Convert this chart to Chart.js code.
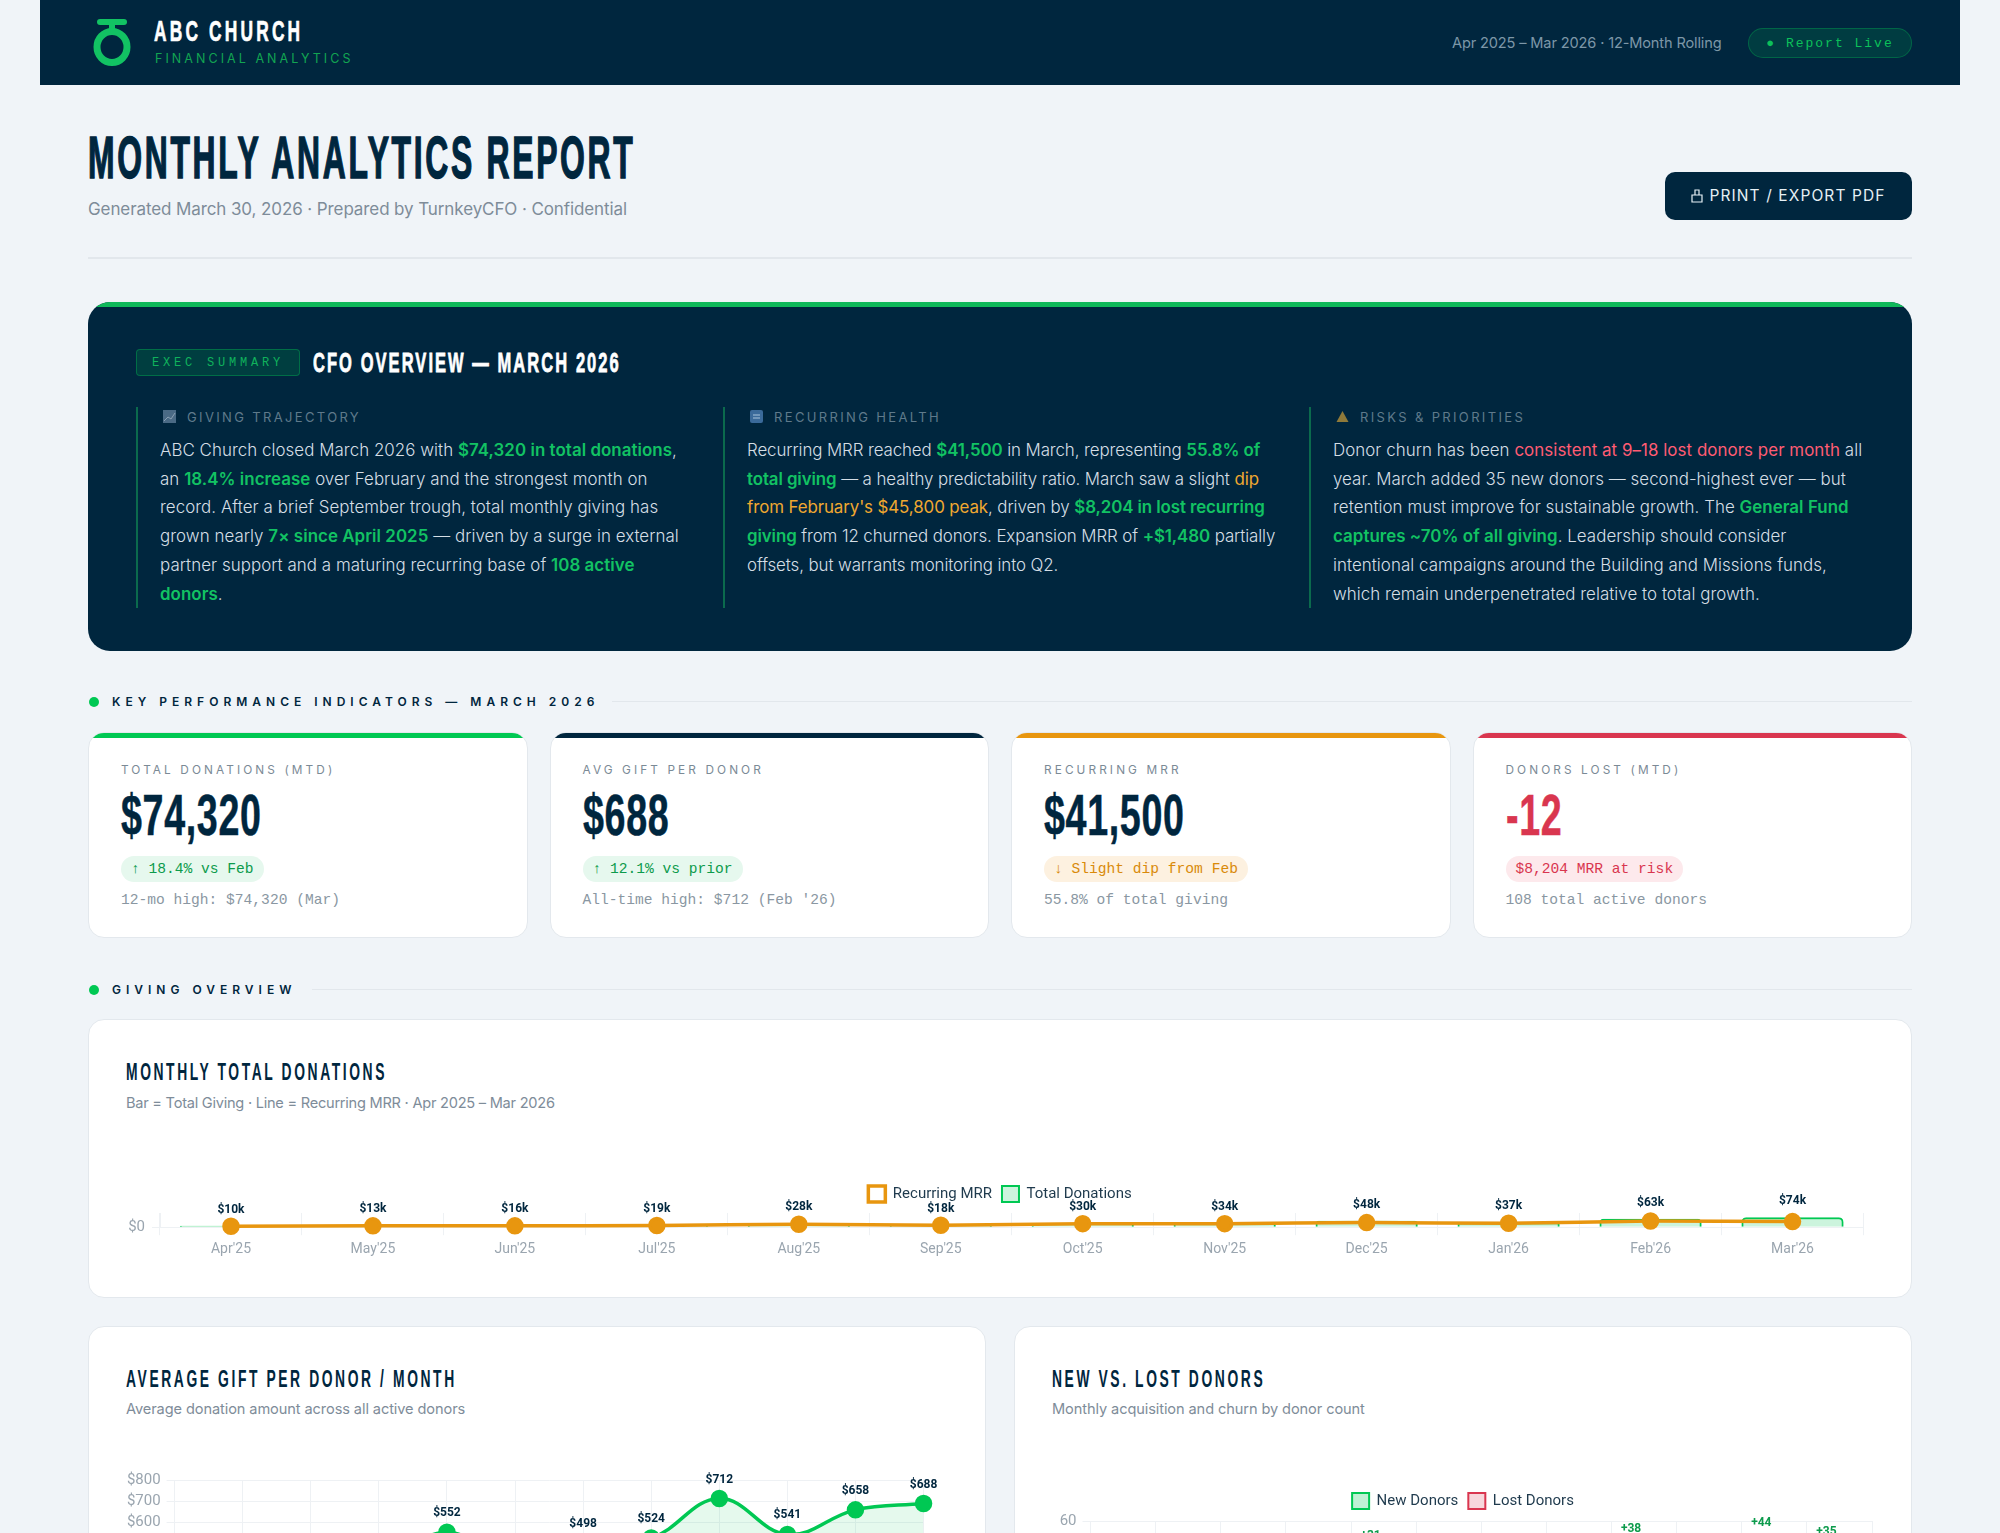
<!DOCTYPE html>
<html>
<head>
<meta charset="utf-8">
<title>ABC Church Monthly Analytics Report</title>
<script src="https://cdn.jsdelivr.net/npm/chart.js@4/dist/chart.umd.js"></script>
<style>
* { box-sizing: border-box; margin: 0; padding: 0; }
html, body { width: 2000px; height: 1533px; overflow: hidden; background: #f0f4f8; }
body { font-family: Inter, "Noto Sans", sans-serif; color: #00263e; }
.disp { font-family: "Liberation Sans", sans-serif; font-weight: 700; white-space: nowrap; display: inline-block; transform-origin: left center; }
.mono { font-family: "Liberation Mono", "DejaVu Sans Mono", monospace; }

.top { margin: 0 40px; height: 85px; background: #00263e; position: relative; }
.top svg { position: absolute; left: 53px; top: 18px; }
.brand { position: absolute; left: 114px; top: 15px; font-size: 30px; line-height: 32px; color: #fff; letter-spacing: 5.5px; transform: scaleX(.578); -webkit-text-stroke: .7px #fff; }
.brand-sub { position: absolute; left: 115px; top: 51px; font-size: 12.5px; line-height: 16px; color: #12a452; letter-spacing: 3.05px; white-space: nowrap; }
.period { position: absolute; left: 1412px; top: 32px; font-size: 14.6px; line-height: 22px; color: #7d97a8; white-space: nowrap; letter-spacing: -.15px; }
.live { position: absolute; right: 48px; top: 28px; width: 164px; height: 30px; border-radius: 15px; background: rgba(0,200,83,.14); border: 1px solid rgba(0,200,83,.3); color: #0cc05a; font-size: 13px; line-height: 29px; letter-spacing: 2px; text-align: center; white-space: nowrap; }

main { margin: 0 88px; position: relative; }
.head { height: 174px; border-bottom: 2px solid #e2e7ec; position: relative; }
h1 { position: absolute; left: 0; top: 43px; font-size: 59px; line-height: 60px; letter-spacing: 5px; color: #00263e; transform: scaleX(.54); -webkit-text-stroke: 1.5px #00263e; }
.gen { position: absolute; left: 0; top: 113px; font-size: 17px; line-height: 22px; color: #7e8c99; white-space: nowrap; letter-spacing: -.1px; }
.print { position: absolute; right: 0; top: 87px; width: 247px; height: 48px; border-radius: 10px; background: #00263e; color: #e6f0f5; font-size: 15.5px; line-height: 48px; letter-spacing: 1.1px; text-align: center; white-space: nowrap; }
.print svg { vertical-align: -2px; margin-right: 6px; }

.exec { margin-top: 43px; height: 349px; background: #00263e; border-radius: 22px; position: relative; overflow: hidden; }
.exec::before { content: ""; position: absolute; left: 0; right: 0; top: 0; height: 5px; background: #0fb85a; }
.badge { position: absolute; left: 48px; top: 47px; width: 164px; height: 27px; border-radius: 4px; background: rgba(0,200,83,.15); border: 1px solid rgba(0,200,83,.35); color: #10b25c; font-size: 12px; line-height: 26px; letter-spacing: 3.8px; text-align: center; white-space: nowrap; }
.exec h2 { position: absolute; left: 225px; top: 46px; font-size: 28px; line-height: 30px; letter-spacing: 3.5px; color: #fff; transform: scaleX(.589); -webkit-text-stroke: .8px #fff; }
.col { position: absolute; top: 105px; width: 555px; height: 201px; border-left: 2px solid #0b6a4d; padding-left: 22px; }
.col .hd { position: absolute; left: 24px; top: 0; height: 20px; font-size: 13px; line-height: 20px; letter-spacing: 2.35px; color: #5f7a8b; white-space: nowrap; }
.col .hd svg { position: absolute; left: 1px; top: 3px; }
.col .hd span { margin-left: 25px; }
.col p { position: absolute; left: 22px; top: 29px; font-size: 16.9px; line-height: 28.7px; color: #d5dee5; white-space: nowrap; font-weight: 300; letter-spacing: .05px; }
b { font-weight: 600; }
.g { color: #12c263; } .o { color: #f0a830; font-weight: 400; } .r { color: #ff5c73; font-weight: 400; }

.sec { height: 20px; position: relative; }
.sec::before { content: ""; position: absolute; left: 1px; top: 5px; width: 10px; height: 10px; border-radius: 50%; background: #00c853; }
.sec span { position: absolute; left: 24px; top: 0; font-size: 12px; line-height: 20px; font-weight: 600; letter-spacing: 5px; white-space: nowrap; }
.sec i { position: absolute; top: 9px; right: 0; height: 1px; background: #e2e7ec; }

.kpis { margin-top: 20px; display: flex; gap: 22px; height: 206px; }
.kpi { flex: 1; background: #fff; border: 1px solid #e3e8ed; border-radius: 16px; position: relative; overflow: hidden; }
.kpi::before { content: ""; position: absolute; left: 0; right: 0; top: 0; height: 5px; background: var(--c); }
.kpi .lab { position: absolute; left: 32px; top: 28px; font-size: 11.8px; line-height: 18px; letter-spacing: 3.1px; color: #7b8a96; white-space: nowrap; }
.kpi .val { position: absolute; left: 32px; top: 50px; font-size: 57px; line-height: 64px; transform: scaleX(.66); letter-spacing: 1px; color: #00263e; -webkit-text-stroke: .5px currentColor; }
.kpi .pill { position: absolute; left: 32px; top: 123px; height: 26px; border-radius: 13px; padding: 0 10px; font-size: 14.6px; line-height: 26px; white-space: nowrap; }
.kpi .note { position: absolute; left: 32px; top: 157px; font-size: 14.6px; line-height: 20px; color: #8a97a2; white-space: nowrap; }
.up { background: #e6f8ee; color: #0d9b4c; } .warn { background: #fdf1e0; color: #d98a0a; } .bad { background: #fde9ec; color: #d9364f; }

.card { background: #fff; border: 1px solid #e3e8ed; border-radius: 16px; position: relative; overflow: hidden; }
.card h3 { position: absolute; left: 37px; top: 38px; font-size: 24px; line-height: 28px; letter-spacing: 4.5px; font-weight: 700; color: #00263e; transform: scaleX(.577); }
.card .sub { position: absolute; left: 37px; top: 73px; font-size: 14.6px; line-height: 20px; color: #7e8c99; white-space: nowrap; letter-spacing: -.1px; }
.box { position: absolute; left: 37px; right: 37px; }
.row { margin-top: 28px; display: flex; gap: 28px; height: 400px; }
.row .card { height: 400px; }
.row .sub { top: 72px; }
</style>
</head>
<body>
<div class="top">
  <svg width="42" height="50" viewBox="0 0 42 50"><rect x="4" y="1" width="30" height="6" rx="3" fill="#12c263"/><rect x="16" y="6" width="6" height="10" fill="#12c263"/><ellipse cx="19" cy="29" rx="15" ry="15.5" fill="none" stroke="#12c263" stroke-width="7"/></svg>
  <div class="brand disp">ABC CHURCH</div>
  <div class="brand-sub">FINANCIAL ANALYTICS</div>
  <div class="period">Apr 2025 – Mar 2026 · 12-Month Rolling</div>
  <div class="live mono">● Report Live</div>
</div>
<main>
  <div class="head">
    <h1 class="disp">MONTHLY ANALYTICS REPORT</h1>
    <div class="gen">Generated March 30, 2026 · Prepared by TurnkeyCFO · Confidential</div>
    <div class="print"><svg width="12" height="14" viewBox="0 0 12 14"><path d="M1 6h10v7H1zM4 6V1h4v5" fill="none" stroke="#e6f0f5" stroke-width="1.2"/></svg>PRINT / EXPORT PDF</div>
  </div>

  <div class="exec">
    <div class="badge mono">EXEC SUMMARY</div>
    <h2 class="disp">CFO OVERVIEW — MARCH 2026</h2>
    <div class="col" style="left:48px">
      <div class="hd"><svg width="13" height="13"><rect width="13" height="13" fill="#4a6a85"/><path d="M1 11l4-4 3 2 4-6" stroke="#8aa0b3" fill="none"/></svg><span>GIVING TRAJECTORY</span></div>
      <p>ABC Church closed March 2026 with <b class="g">$74,320 in total donations</b>,<br>an <b class="g">18.4% increase</b> over February and the strongest month on<br>record. After a brief September trough, total monthly giving has<br>grown nearly <b class="g">7× since April 2025</b> — driven by a surge in external<br>partner support and a maturing recurring base of <b class="g">108 active<br>donors</b>.</p>
    </div>
    <div class="col" style="left:635px">
      <div class="hd"><svg width="13" height="13"><rect width="13" height="13" rx="2" fill="#3a6a9a"/><path d="M3 5h7M3 8h7" stroke="#a8c4dc"/></svg><span>RECURRING HEALTH</span></div>
      <p style="letter-spacing:-.1px">Recurring MRR reached <b class="g">$41,500</b> in March, representing <b class="g">55.8% of<br>total giving</b> — a healthy predictability ratio. March saw a slight <span class="o">dip<br>from February's $45,800 peak</span>, driven by <b class="g">$8,204 in lost recurring<br>giving</b> from 12 churned donors. Expansion MRR of <b class="g">+$1,480</b> partially<br>offsets, but warrants monitoring into Q2.</p>
    </div>
    <div class="col" style="left:1221px">
      <div class="hd"><svg width="13" height="13"><path d="M6.5 1l6 11H.5z" fill="#8f7a3a"/></svg><span>RISKS &amp; PRIORITIES</span></div>
      <p>Donor churn has been <span class="r">consistent at 9–18 lost donors per month</span> all<br>year. March added 35 new donors — second-highest ever — but<br>retention must improve for sustainable growth. The <b class="g">General Fund<br>captures ~70% of all giving</b>. Leadership should consider<br>intentional campaigns around the Building and Missions funds,<br>which remain underpenetrated relative to total growth.</p>
    </div>
  </div>

  <div class="sec" style="margin-top:41px"><span>KEY PERFORMANCE INDICATORS — MARCH 2026</span><i style="left:524px"></i></div>
  <div class="kpis">
    <div class="kpi" style="--c:#00c853"><div class="lab">TOTAL DONATIONS (MTD)</div><div class="val disp">$74,320</div><div class="pill up mono">↑ 18.4% vs Feb</div><div class="note mono">12-mo high: $74,320 (Mar)</div></div>
    <div class="kpi" style="--c:#00263e"><div class="lab">AVG GIFT PER DONOR</div><div class="val disp">$688</div><div class="pill up mono">↑ 12.1% vs prior</div><div class="note mono">All-time high: $712 (Feb '26)</div></div>
    <div class="kpi" style="--c:#e8960f"><div class="lab">RECURRING MRR</div><div class="val disp">$41,500</div><div class="pill warn mono">↓ Slight dip from Feb</div><div class="note mono">55.8% of total giving</div></div>
    <div class="kpi" style="--c:#d9364f"><div class="lab">DONORS LOST (MTD)</div><div class="val disp" style="color:#d9364f">-12</div><div class="pill bad mono">$8,204 MRR at risk</div><div class="note mono">108 total active donors</div></div>
  </div>

  <div class="sec" style="margin-top:42px"><span>GIVING OVERVIEW</span><i style="left:224px"></i></div>
  <div class="card" style="margin-top:19px;height:279px">
    <h3 class="disp">MONTHLY TOTAL DONATIONS</h3>
    <div class="sub" style="letter-spacing:-.25px">Bar = Total Giving · Line = Recurring MRR · Apr 2025 – Mar 2026</div>
    <div class="box" style="top:156px;height:87px"><canvas id="totalChart"></canvas></div>
  </div>
  <div class="row">
    <div class="card" style="width:898px">
      <h3 class="disp">AVERAGE GIFT PER DONOR / MONTH</h3>
      <div class="sub">Average donation amount across all active donors</div>
      <div class="box" style="top:116px;height:236px"><canvas id="avgChart"></canvas></div>
    </div>
    <div class="card" style="width:898px">
      <h3 class="disp">NEW VS. LOST DONORS</h3>
      <div class="sub">Monthly acquisition and churn by donor count</div>
      <div class="box" style="top:156px;height:126px"><canvas id="donorChart"></canvas></div>
    </div>
  </div>
</main>

<script>
// values
var months = ["Apr'25", "May'25", "Jun'25", "Jul'25", "Aug'25", "Sep'25", "Oct'25", "Nov'25", "Dec'25", "Jan'26", "Feb'26", "Mar'26"];
var totalDonations = [10200, 12800, 16100, 19300, 27900, 18200, 30400, 34100, 47800, 37100, 62770, 74320];
var recurringMrr = [7000, 10000, 10000, 13000, 22000, 14000, 26000, 26000, 34000, 29000, 45800, 41500];
var avgGift = [310, 340, 370, 400, 552, 400, 498, 524, 712, 541, 658, 688];
var newDonors = [18, 15, 22, 20, 31, 12, 24, 26, 38, 24, 44, 35];
var lostDonors = [9, 11, 14, 10, 13, 18, 12, 15, 16, 11, 14, 12];

var navy = '#00263e', green = '#00c853', orange = '#e8960f', red = '#d9364f';
var gridColor = '#eef1f4', tickColor = '#9aa5af';
var tickFont = { family: 'Roboto', size: 14 };
var yTickFont = { family: 'Roboto', size: 15 };

// small text over the marks, one dataset per chart
function markLabels(datasetIndex, format, color, gap) {
    return {
        id: 'markLabels',
        afterDatasetsDraw: function (chart) {
            var c = chart.ctx;
            var meta = chart.getDatasetMeta(datasetIndex);
            c.save();
            c.font = 'bold 12px Roboto';
            c.fillStyle = color;
            c.textAlign = 'center';
            c.textBaseline = 'middle';
            meta.data.forEach(function (el, i) {
                c.fillText(format(chart.data.datasets[datasetIndex].data[i]), el.x, el.y - gap);
            });
            c.restore();
        }
    };
}

// extra room under the legend, and a sideways nudge for it
function legendGap(px, shift) {
    return {
        id: 'legendGap',
        beforeInit: function (chart) {
            var fit = chart.legend.fit;
            chart.legend.fit = function () {
                fit.call(this);
                this.height += px;
            };
        },
        afterLayout: function (chart) {
            chart.legend.left += shift;
            chart.legend.right += shift;
        }
    };
}

function xAxis(offset, pad) {
    return {
        offset: offset,
        grid: { color: gridColor },
        border: { color: gridColor },
        ticks: { color: tickColor, font: tickFont, maxRotation: 0, padding: pad }
    };
}

function legendOpts() {
    return {
        position: 'top',
        labels: { boxWidth: 17, boxHeight: 16, padding: 10, color: '#1f3a4d', font: { family: 'Roboto', size: 15 } }
    };
}

// MONTHLY TOTAL DONATIONS
new Chart(document.getElementById('totalChart').getContext('2d'), {
    type: 'bar',
    data: {
        labels: months,
        datasets: [{
            type: 'line',
            label: 'Recurring MRR',
            data: recurringMrr,
            order: 1,
            clip: false,
            borderColor: orange,
            backgroundColor: 'transparent',
            borderWidth: 3.5,
            pointRadius: 7,
            pointBackgroundColor: orange,
            pointBorderColor: orange,
            tension: 0.3
        }, {
            label: 'Total Donations',
            data: totalDonations,
            order: 2,
            backgroundColor: 'rgba(0,200,83,0.2)',
            borderColor: green,
            borderWidth: 2,
            borderRadius: 6
        }]
    },
    plugins: [legendGap(1, 5), markLabels(1, function (v) { return '$' + Math.round(v / 1000) + 'k'; }, navy, 16)],
    options: {
        responsive: true,
        maintainAspectRatio: false,
        animation: false,
        layout: { padding: { right: 10 } },
        plugins: { legend: legendOpts(), tooltip: { enabled: false } },
        scales: {
            x: xAxis(true, 5.5),
            y: {
                min: 0,
                max: 105000,
                afterFit: function (s) { s.width = 34; },
                grid: { color: gridColor },
                border: { color: gridColor },
                ticks: {
                    color: tickColor,
                    font: yTickFont,
                    padding: 7,
                    autoSkip: false,
                    callback: function (v) { return v === 0 ? '$0' : null; }
                }
            }
        }
    }
});

// AVERAGE GIFT PER DONOR / MONTH
new Chart(document.getElementById('avgChart').getContext('2d'), {
    type: 'line',
    data: {
        labels: months,
        datasets: [{
            label: 'Average Gift',
            data: avgGift,
            clip: false,
            borderColor: green,
            backgroundColor: 'rgba(0,200,83,0.1)',
            fill: true,
            borderWidth: 3.5,
            pointRadius: 7,
            pointBackgroundColor: green,
            pointBorderColor: green,
            tension: 0.4
        }]
    },
    plugins: [markLabels(0, function (v) { return '$' + v; }, navy, 19)],
    options: {
        responsive: true,
        maintainAspectRatio: false,
        animation: false,
        layout: { padding: { top: 37 } },
        plugins: { legend: { display: false }, tooltip: { enabled: false } },
        scales: {
            x: xAxis(false, 3),
            y: {
                min: 0,
                max: 800,
                afterFit: function (s) { s.width = 48.6; },
                grid: { color: gridColor },
                border: { color: gridColor },
                ticks: { stepSize: 100, color: tickColor, font: yTickFont, padding: 6, autoSkip: false, callback: function (v) { return '$' + v; } }
            }
        }
    }
});

// NEW VS. LOST DONORS
new Chart(document.getElementById('donorChart').getContext('2d'), {
    type: 'bar',
    data: {
        labels: months,
        datasets: [{
            label: 'New Donors',
            data: newDonors,
            backgroundColor: 'rgba(0,200,83,0.25)',
            borderColor: green,
            borderWidth: 2,
            borderRadius: 4
        }, {
            label: 'Lost Donors',
            data: lostDonors,
            backgroundColor: 'rgba(217,54,79,0.2)',
            borderColor: red,
            borderWidth: 2,
            borderRadius: 4
        }]
    },
    plugins: [legendGap(2, 1), markLabels(0, function (v) { return '+' + v; }, '#0d9b4c', 13)],
    options: {
        responsive: true,
        maintainAspectRatio: false,
        animation: false,
        layout: { padding: { right: 2 } },
        plugins: { legend: legendOpts(), tooltip: { enabled: false } },
        scales: {
            x: xAxis(true, 3),
            y: {
                min: 0,
                max: 60,
                afterFit: function (s) { s.width = 38.5; },
                grid: { color: gridColor },
                border: { color: gridColor },
                ticks: { stepSize: 30, color: tickColor, font: yTickFont, padding: 6, autoSkip: false }
            }
        }
    }
});
</script>
</body>
</html>
